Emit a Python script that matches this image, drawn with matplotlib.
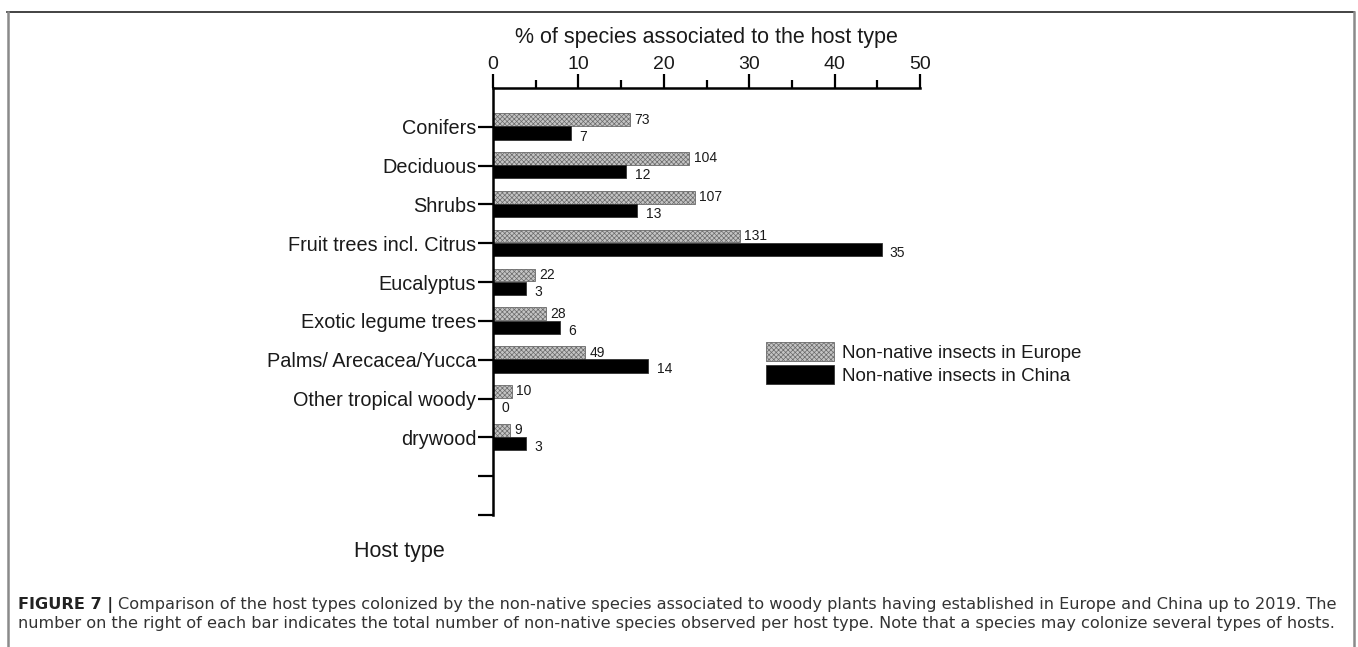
import numpy as np
import matplotlib
matplotlib.use("Agg")
import matplotlib.pyplot as plt
from matplotlib.lines import Line2D

plt.rcParams['font.family'] = ['Liberation Sans', 'DejaVu Sans']
plt.rcParams['hatch.linewidth'] = 0.5

#-----------------------------------------------------------------------
# data
hosts = ['Conifers', 'Deciduous', 'Shrubs', 'Fruit trees incl. Citrus', 'Eucalyptus',
         'Exotic legume trees', 'Palms/ Arecacea/Yucca', 'Other tropical woody', 'drywood']
europe_pct = [16.1, 23.0, 23.6, 28.9, 4.9, 6.2, 10.8, 2.2, 2.0]
china_pct = [9.1, 15.6, 16.9, 45.5, 3.9, 7.8, 18.2, 0.0, 3.9]
europe_n = [73, 104, 107, 131, 22, 28, 49, 10, 9]
china_n = [7, 12, 13, 35, 3, 6, 14, 0, 3]
xticks = [0, 10, 20, 30, 40, 50]

W, H = 1358, 647
fig = plt.figure(figsize=(W / 100, H / 100), dpi=100)
ax = fig.add_axes([493 / W, 1 - 515 / H, (920 - 493) / W, (515 - 88) / H])

pos = np.arange(1, len(hosts) + 1)
txt = '#1a1a1a'

b1 = ax.barh(pos - 0.185, europe_pct, height=0.33, facecolor='#c4c4c4',
             edgecolor='#6a6a6a', hatch='xxxxxxx', linewidth=0.6,
             label='Non-native insects in Europe')
b2 = ax.barh(pos + 0.16, china_pct, height=0.34, color='black',
             edgecolor='#333333', linewidth=0.6,
             label='Non-native insects in China')

# counts on the right of each bar
for y, v, n in zip(pos, europe_pct, europe_n):
    ax.annotate(str(n), (v, y - 0.185), xytext=(3, 0), textcoords='offset points',
                ha='left', va='center', fontsize=10, color=txt)
for y, v, n in zip(pos, china_pct, china_n):
    ax.annotate(str(n), (v, y + 0.16), xytext=(6, -2.5), textcoords='offset points',
                ha='left', va='center', fontsize=10, color=txt)

ax.set_xlim(0, 50)
ax.set_ylim(11, 0)
ax.xaxis.tick_top()
ax.set_xticks(xticks)
ax.set_xticks(np.arange(5, 50, 10), minor=True)
ax.set_yticks(np.arange(1, 12))
ax.set_yticklabels(hosts + ['', ''])
ax.tick_params(axis='x', which='major', length=10, width=1.6, pad=1,
               labelsize=14, labelcolor=txt)
ax.tick_params(axis='x', which='minor', length=5.5, width=1.6)
ax.tick_params(axis='y', length=11, width=1.6, pad=1, labelsize=14.3, labelcolor=txt)
for s in ['bottom', 'right']:
    ax.spines[s].set_visible(False)
for s in ['top', 'left']:
    ax.spines[s].set_linewidth(1.8)

fig.text((493 + 920) / 2 / W, 1 - 38 / H, '% of species associated to the host type',
         ha='center', va='center', fontsize=15.5, color=txt)
fig.text(399 / W, 1 - 551 / H, 'Host type', ha='center', va='center',
         fontsize=15.5, color=txt)

ax.legend(handles=[b1, b2], loc='upper left', bbox_to_anchor=(766 / W, 1 - 342 / H),
          bbox_transform=fig.transFigure, frameon=False, fontsize=13.5,
          handlelength=3.6, handleheight=1.15, labelspacing=0.18,
          handletextpad=0.45, borderpad=0, borderaxespad=0, labelcolor=txt)

# frame around the figure panel
fig.add_artist(Line2D([7 / W, 1354 / W], [1 - 11.5 / H] * 2, color='#222222', lw=1.2))
fig.add_artist(Line2D([7.5 / W] * 2, [1 - 11.5 / H, 0], color='#8a8a8a', lw=1.8))
fig.add_artist(Line2D([1353.5 / W] * 2, [1 - 11.5 / H, 0], color='#8a8a8a', lw=1.8))

# caption, sized so the first line spans the panel width
cap_col = '#333333'
cap_fam = ['DejaVu Sans']
line1 = ('Comparison of the host types colonized by the non-native species associated to '
         'woody plants having established in Europe and China up to 2019. The')
line2 = ('number on the right of each bar indicates the total number of non-native species '
         'observed per host type. Note that a species may colonize several types of hosts.')
r = fig.canvas.get_renderer()
cap_fs = 11.0
t0 = fig.text(18 / W, 1 - 605 / H, 'FIGURE 7 |', fontsize=cap_fs, fontweight='bold',
              color='#222222', ha='left', va='center', family=cap_fam)
t1 = fig.text(0, 1 - 605 / H, line1, fontsize=cap_fs, color=cap_col,
              ha='left', va='center', family=cap_fam)
w_tot = t0.get_window_extent(r).width + 5 + t1.get_window_extent(r).width
cap_fs = cap_fs * (1340 - 18) / w_tot
t0.set_fontsize(cap_fs)
t1.set_fontsize(cap_fs)
bb = t0.get_window_extent(r)
t1.set_x((bb.x1 + 5) / W)
fig.text(18 / W, 1 - 623.5 / H, line2, fontsize=cap_fs, color=cap_col,
         ha='left', va='center', family=cap_fam)

fig.savefig('out.png', dpi=100)
